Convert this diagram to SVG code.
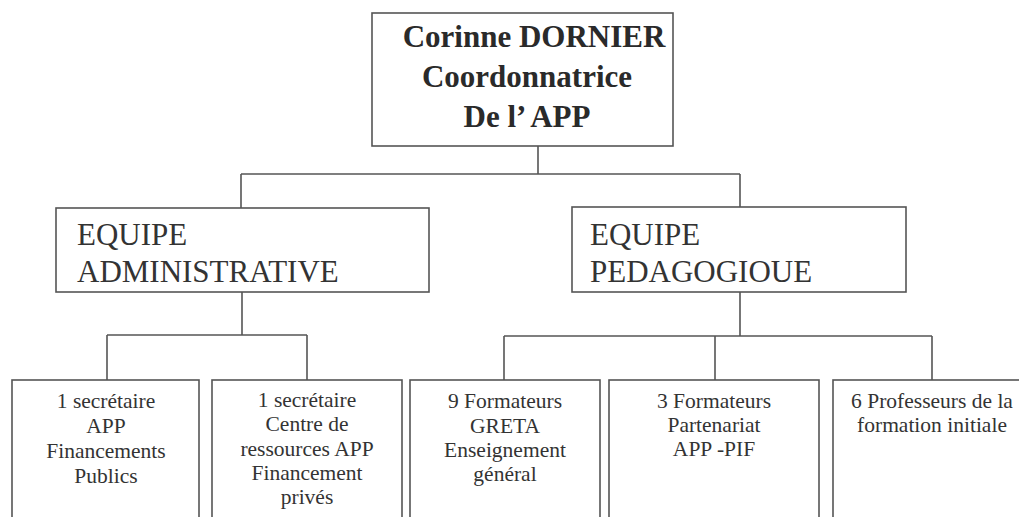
<svg xmlns="http://www.w3.org/2000/svg" width="1019" height="517" viewBox="0 0 1019 517">
<style>
.box{fill:#fff;stroke:#555;stroke-width:1.6}
.ln{fill:none;stroke:#555;stroke-width:1.6}
.t{font-family:"Liberation Serif","Times New Roman",serif;fill:#333}
.top{font-size:31px;font-weight:bold;text-anchor:middle;fill:#2a2a2a}
.eq{font-size:31px}
.sm{font-size:21.5px;text-anchor:middle}
</style>
<rect width="1019" height="517" fill="#fff"/>
<g id="connectors">
<path class="ln" d="M538,146 V174 M241,174 H740 M241,174 V208 M740,174 V207"/>
<path class="ln" d="M242,292 V335 M107,335 H307 M107,335 V380 M307,335 V380"/>
<path class="ln" d="M740,292 V336 M504,336 H932 M504,336 V380 M715,336 V380 M932,336 V380"/>
</g>
<g id="coordinatrice">
<rect class="box" x="372" y="13" width="301" height="133"/>
<text class="t top" x="534" y="47">Corinne DORNIER</text>
<text class="t top" x="527" y="87">Coordonnatrice</text>
<text class="t top" x="527" y="127">De l’ APP</text>
</g>
<g id="equipe-admin">
<rect class="box" x="56" y="208" width="373" height="84"/>
<text class="t eq" x="77" y="245">EQUIPE</text>
<text class="t eq" x="77" y="282">ADMINISTRATIVE</text>
</g>
<g id="equipe-peda">
<rect class="box" x="572" y="207" width="334" height="85"/>
<text class="t eq" x="590" y="245">EQUIPE</text>
<text class="t eq" x="590" y="282">PEDAGOGIOUE</text>
</g>
<g id="secretaire-1">
<rect class="box" x="12" y="380" width="187" height="150"/>
<text class="t sm" x="106" y="408">1 secrétaire</text>
<text class="t sm" x="106" y="433">APP</text>
<text class="t sm" x="106" y="458">Financements</text>
<text class="t sm" x="106" y="483">Publics</text>
</g>
<g id="secretaire-2">
<rect class="box" x="212" y="380" width="190" height="150"/>
<text class="t sm" x="307" y="407">1 secrétaire</text>
<text class="t sm" x="307" y="431">Centre de</text>
<text class="t sm" x="307" y="456">ressources  APP</text>
<text class="t sm" x="307" y="480">Financement</text>
<text class="t sm" x="307" y="504">privés</text>
</g>
<g id="formateurs-greta">
<rect class="box" x="410" y="380" width="190" height="150"/>
<text class="t sm" x="505" y="408">9 Formateurs</text>
<text class="t sm" x="505" y="433">GRETA</text>
<text class="t sm" x="505" y="457">Enseignement</text>
<text class="t sm" x="505" y="481">général</text>
</g>
<g id="formateurs-pif">
<rect class="box" x="609" y="380" width="210" height="150"/>
<text class="t sm" x="714" y="408">3 Formateurs</text>
<text class="t sm" x="714" y="432">Partenariat</text>
<text class="t sm" x="714" y="456">APP -PIF</text>
</g>
<g id="professeurs">
<rect class="box" x="833" y="380" width="200" height="150"/>
<text class="t sm" x="932" y="408">6 Professeurs de la</text>
<text class="t sm" x="932" y="432">formation initiale</text>
</g>
</svg>
